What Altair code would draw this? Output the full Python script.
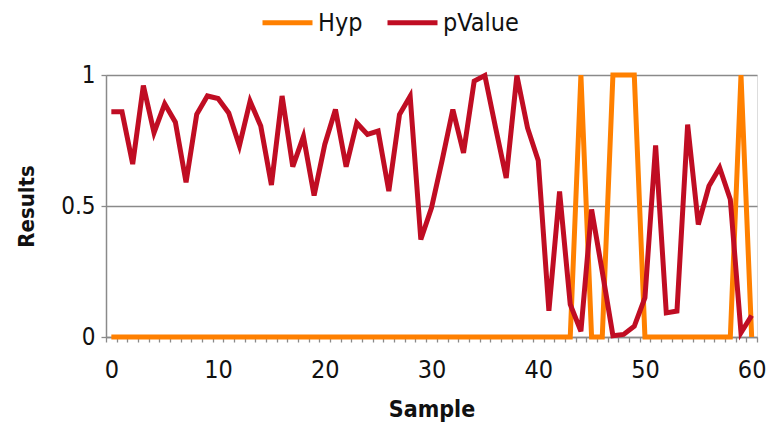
import altair as alt
import pandas as pd

samples = list(range(61))
pvalue = [0.86, 0.86, 0.66, 0.96, 0.78, 0.89, 0.82, 0.59, 0.85, 0.92,
          0.91, 0.855, 0.73, 0.90, 0.805, 0.58, 0.92, 0.65, 0.765, 0.54,
          0.735, 0.868, 0.65, 0.817, 0.773, 0.786, 0.557, 0.849, 0.919, 0.372,
          0.493, 0.675, 0.868, 0.703, 0.977, 0.998, 0.80, 0.607, 0.998, 0.798,
          0.674, 0.10, 0.555, 0.124, 0.022, 0.487, 0.25, 0.005, 0.01, 0.041,
          0.15, 0.731, 0.092, 0.099, 0.811, 0.429, 0.576, 0.646, 0.525, 0.016,
          0.082]
hyp = [0] * 61
for i in (44, 47, 48, 49, 59):
    hyp[i] = 1

series_names = ["Hyp", "pValue"]
series_colors = ["#FF8000", "#C00D23"]

rows = []
for s, h, p in zip(samples, hyp, pvalue):
    rows.append({"Sample": s, "series": "Hyp", "value": h})
    rows.append({"Sample": s, "series": "pValue", "value": p})
df = pd.DataFrame(rows)

tick_vals = [i - 0.5 for i in range(62)]
FONT = "DejaVu Sans Condensed, sans-serif"

chart = alt.Chart(df).mark_line(strokeWidth=5, strokeJoin="miter", strokeCap="butt").encode(
    x=alt.X("Sample:Q",
            scale=alt.Scale(domain=[-0.5, 60.5], nice=False, zero=False),
            axis=alt.Axis(values=tick_vals,
                          labelExpr="(datum.value + 0.5) % 10 == 0 ? format(datum.value + 0.5, 'd') : ''",
                          labelOffset=5.34, labelOverlap=False, labelFlush=False, labelBound=False,
                          tickSize=5, tickColor="#8a8a8a", tickWidth=1.3,
                          domainColor="#8a8a8a", domainWidth=1.5, grid=False,
                          labelFont=FONT, labelFontSize=25, labelColor="#111111", labelPadding=15,
                          title="Sample", titleFont="DejaVu Sans Condensed", titleFontWeight="bold",
                          titleFontSize=23, titleColor="#111111", titlePadding=16)),
    y=alt.Y("value:Q",
            scale=alt.Scale(domain=[0, 1], nice=False),
            axis=alt.Axis(values=[0, 0.5, 1], labelExpr="datum.value == 0.5 ? '0.5' : format(datum.value, 'd')",
                          tickSize=5, tickColor="#8a8a8a", tickWidth=1.3,
                          domainColor="#8a8a8a", domainWidth=1.5,
                          grid=True, gridColor="#8a8a8a", gridWidth=1.5,
                          labelFont=FONT, labelFontSize=24, labelColor="#111111", labelPadding=6,
                          title="Results", titleFont="DejaVu Sans Condensed", titleFontWeight="bold",
                          titleFontSize=22, titleColor="#111111", titlePadding=22)),
    color=alt.Color("series:N",
                    scale=alt.Scale(domain=series_names, range=series_colors),
                    legend=alt.Legend(title=None, orient="none", direction="horizontal",
                                      legendX=154, legendY=-80,
                                      symbolType="stroke", symbolStrokeWidth=5, symbolSize=2500,
                                      labelFont=FONT, labelFontSize=25, labelColor="#111111",
                                      labelOffset=3, columnPadding=14)),
).properties(
    width=651, height=262,
    autosize=alt.AutoSizeParams(type="none"),
    padding={"left": 106, "top": 75, "right": 13, "bottom": 89},
).configure_view(stroke=None).configure(background="white")

chart.save("out.html", embed_options={"renderer": "svg", "actions": False})
